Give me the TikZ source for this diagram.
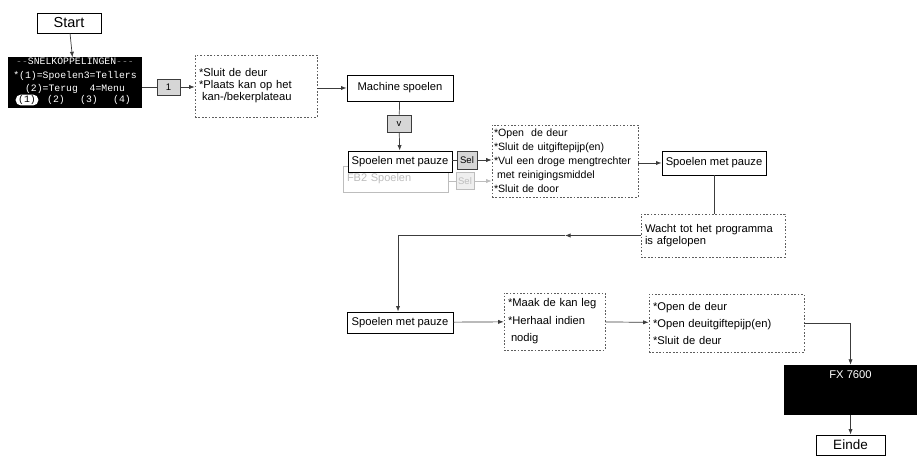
\documentclass[tikz,border=0pt]{standalone}
\usepackage{fontspec}
\setmainfont{Liberation Sans}
\setmonofont{Liberation Mono}
\usetikzlibrary{arrows.meta,calc}
\definecolor{KeyGrey}{HTML}{D6D6D6}
\definecolor{LineGrey}{HTML}{3C3C3C}
\definecolor{DotGrey}{HTML}{5E5E5E}
\definecolor{GhostGrey}{HTML}{BDBDBD}

\tikzset{
  box/.style={draw=black, line width=0.9pt, fill=white, inner sep=0pt,
    font=\fontsize{11.2}{13}\selectfont},
  dotbox/.style={draw=DotGrey, line width=0.75pt, dash pattern=on 1.7pt off 1.7pt,
    align=left, inner xsep=4pt, inner ysep=0pt},
  keybox/.style={draw=LineGrey, line width=0.7pt, fill=KeyGrey, inner sep=0pt,
    font=\fontsize{9.5}{10}\selectfont},
  ghost/.style={draw=GhostGrey, line width=0.7pt, fill=white, text=GhostGrey},
  screen/.style={fill=black, text=white, inner sep=0pt},
  flow/.style={LineGrey, line width=0.7pt},
  tip/.style={flow, -{Latex[length=5.5pt,width=4.2pt]}},
  ghosttip/.style={GhostGrey, line width=0.7pt, -{Latex[length=5.5pt,width=4.2pt]}}
}

\begin{document}
\begin{tikzpicture}[x=1pt, y=-1pt]
\useasboundingbox (0,0) rectangle (920,462);

% Start and quick menu
\node[box, minimum width=64pt, minimum height=20pt, font=\fontsize{14.5}{16}\selectfont]
  (start) at (69,23) {Start};
\node[screen, minimum width=134pt, minimum height=51pt, align=center, text depth=16pt,
  font=\ttfamily\fontsize{9.8}{13.5}\selectfont] (snel) at (75,83)
  {{\color{gray}-{}-}SNELKOPPELINGEN{\color{gray}-{}-{}-}\\
   *(1)=Spoelen3=Tellers\\
   (2)=Terug~~4=Menu};

% keys of the menu
\foreach \k/\kx in {1/27, 2/56, 3/89, 4/122}
  \node[text=white, inner sep=1pt, font=\ttfamily\fontsize{9.8}{10}\selectfont]
    (toets\k) at (\kx,100) {(\k)};
\node[fill=white, text=black, rounded corners=5pt, inner xsep=2.5pt, inner ysep=0.8pt,
  font=\ttfamily\fontsize{9.8}{10}\selectfont] (toets1) at (27,100) {(1)};

\node[keybox, minimum width=23pt, minimum height=16pt] (key1) at (168.5,87) {1};
\node[dotbox, text width=114pt, minimum height=62pt, font=\fontsize{11.2}{12}\selectfont]
  (sluit) at (256,86)
  {*Sluit de deur\\{}*Plaats kan op het\\\hspace{3pt}kan-/bekerplateau};

% rinse branch
\node[box, minimum width=106pt, minimum height=26pt] (machine) at (400,88) {Machine spoelen};
\node[keybox, minimum width=24pt, minimum height=17pt] (vkey) at (399,123.5) {v};
\node[ghost, minimum width=105pt, minimum height=26pt, text width=97pt, align=left,
  font=\fontsize{11}{12}\selectfont] (fb2) at (395.5,179) {FB2 Spoelen};
\node[box, minimum width=104pt, minimum height=21pt] (pauze1) at (400,161.5) {Spoelen met pauze};
\node[keybox, minimum width=20pt, minimum height=18pt] (sel1) at (467,160) {Sel};
\node[keybox, draw=GhostGrey, fill=KeyGrey!40, text=GhostGrey, minimum width=18pt,
  minimum height=17pt] (sel2) at (465,181) {Sel};
\node[dotbox, inner xsep=2pt, text width=142pt, minimum height=72pt,
  font=\fontsize{10.6}{14}\selectfont] (vullen) at (565,161)
  {*Open~ de deur\\{}*Sluit de uitgiftepijp(en)\\{}*Vul een droge mengtrechter\\
   \hspace{3pt}met reinigingsmiddel\\{}*Sluit de door};
\node[box, minimum width=104pt, minimum height=24pt] (pauze2) at (714,163) {Spoelen met pauze};
\node[dotbox, text width=136pt, minimum height=43pt, font=\fontsize{11.2}{12}\selectfont]
  (wacht) at (713,235.5) {Wacht tot het programma\\is afgelopen};

% emptying and end
\node[box, minimum width=106pt, minimum height=21pt] (pauze3) at (400,322.5) {Spoelen met pauze};
\node[dotbox, text width=93pt, minimum height=57pt, font=\fontsize{11.2}{17.5}\selectfont]
  (leeg) at (554.5,321.5) {*Maak de kan leg\\{}*Herhaal indien\\\hspace{3pt}nodig};
\node[dotbox, text width=147pt, minimum height=58pt, font=\fontsize{11.2}{17}\selectfont]
  (open) at (726.5,323) {*Open de deur\\{}*Open deuitgiftepijp(en)\\{}*Sluit de deur};
\node[screen, minimum width=133pt, minimum height=50pt, text depth=31pt,
  font=\fontsize{11.2}{12}\selectfont] (fx) at (850.5,390) {FX 7600};
\node[box, minimum width=69pt, minimum height=20pt, font=\fontsize{13.5}{15}\selectfont]
  (einde) at (850.5,445) {Einde};

\coordinate (wmid) at (565,235.5);
\coordinate (bocht) at (398,235.5);

% connectors
\draw[tip] (start) -- (snel);
\draw[flow] (snel.east |- key1.west) -- (key1.west);
\draw[tip] (key1.east) -- (sluit.west |- key1.east);
\draw[tip] (sluit.east |- machine.west) -- (machine.west);
\draw[flow] (machine) -- (vkey);
\draw[tip] (vkey) -- (pauze1);
\draw[flow] (pauze1.east |- sel1.west) -- (sel1.west);
\draw[tip] (sel1.east) -- (vullen.west |- sel1.east);
\draw[GhostGrey, line width=0.7pt] (fb2.east |- sel2.west) -- (sel2.west);
\draw[ghosttip] (sel2.east) -- (vullen.west |- sel2.east);
\draw[tip] (vullen.east |- pauze2.west) -- (pauze2.west);
\draw[flow] (pauze2) -- (pauze2 |- wacht.north);
\draw[tip] (wacht.west) -- (wmid);
\draw[flow] (wmid) -- (bocht);
\draw[tip] (bocht) -- (bocht |- pauze3.north);
\draw[tip] (pauze3) -- (leeg);
\draw[tip] (leeg) -- (open);
\draw[tip] (open.east) -| (fx.north);
\draw[tip] (fx) -- (einde);
\end{tikzpicture}
\end{document}
